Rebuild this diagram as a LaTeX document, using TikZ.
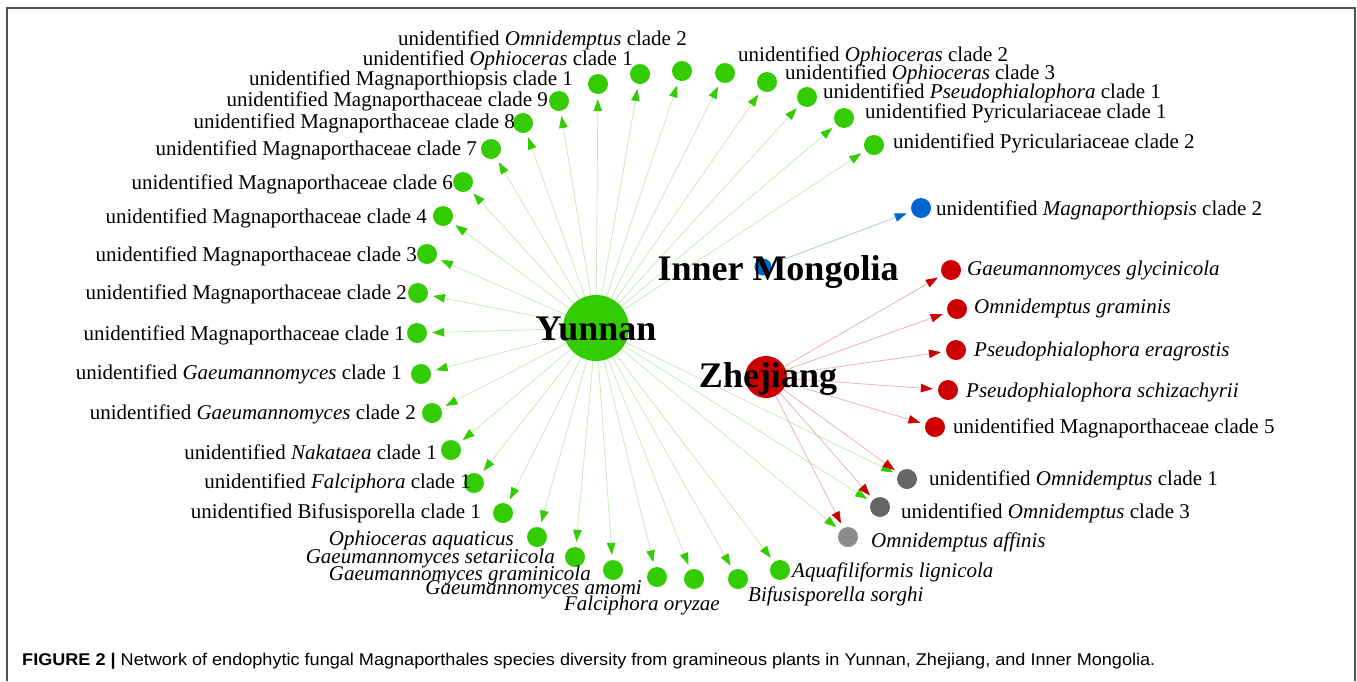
\documentclass[tikz,border=0pt]{standalone}
\usepackage{fontspec}
\setmainfont{Liberation Serif}
\newfontfamily\capfont{Liberation Sans}
\usetikzlibrary{arrows.meta,backgrounds}
\definecolor{ygreen}{RGB}{51,204,0}
\definecolor{zred}{RGB}{204,0,0}
\definecolor{mblue}{RGB}{0,102,204}
\definecolor{grayA}{RGB}{102,102,102}
\definecolor{grayB}{RGB}{140,140,140}
\definecolor{gedge}{RGB}{198,236,186}
\definecolor{redge}{RGB}{238,176,184}
\definecolor{bedge}{RGB}{172,202,234}
\definecolor{framec}{RGB}{80,80,80}
\tikzset{
  leaf/.style={circle,inner sep=0pt,minimum size=20pt,draw=none},
  gleaf/.style={leaf,fill=ygreen},
  rleaf/.style={leaf,fill=zred},
  bleaf/.style={leaf,fill=mblue},
  gyleaf/.style={leaf,fill=grayA},
  gyleafb/.style={leaf,fill=grayB},
  labl/.style={anchor=base east,inner sep=0pt,font=\fontsize{21}{24}\selectfont},
  labr/.style={anchor=base west,inner sep=0pt,font=\fontsize{21}{24}\selectfont},
  hublab/.style={anchor=base,inner sep=0pt,font=\fontsize{36}{40}\selectfont\bfseries},
  gedg/.style={draw=gedge,line width=0.8pt,shorten >=5pt,-{Triangle[length=12pt,width=8.5pt,color=ygreen]}},
  redg/.style={draw=redge,line width=0.8pt,shorten >=5pt,-{Triangle[length=12pt,width=8.5pt,color=zred]}},
  bedg/.style={draw=bedge,line width=0.8pt,shorten >=5pt,-{Triangle[length=12pt,width=8.5pt,color=mblue]}}
}
\begin{document}
\begin{tikzpicture}[x=1pt,y=-1pt]
\useasboundingbox (0,0) rectangle (1357,681);
% hubs
\node[circle,inner sep=0pt,minimum size=66pt,fill=ygreen] (yun) at (596,328) {};
\node[circle,inner sep=0pt,minimum size=17pt,fill=mblue] (inm) at (763,267) {};
\node[circle,inner sep=0pt,minimum size=42pt,fill=zred] (zhe) at (766,377) {};
% green leaves (labels left)
\node[gleaf] (a) at (682,71) {};
\node[labl] (la) at (687,45) {unidentified \textit{Omnidemptus} clade 2};
\node[gleaf] (b) at (640,74) {};
\node[labl] (lb) at (633,65) {unidentified \textit{Ophioceras} clade 1};
\node[gleaf] (c) at (598,84) {};
\node[labl] (lc) at (573,85) {unidentified Magnaporthiopsis clade 1};
\node[gleaf] (d) at (559,101) {};
\node[labl] (ld) at (548,106) {unidentified Magnaporthaceae clade 9};
\node[gleaf] (e) at (523,123) {};
\node[labl] (le) at (515,128) {unidentified Magnaporthaceae clade 8};
\node[gleaf] (f) at (491,149) {};
\node[labl] (lf) at (477,155) {unidentified Magnaporthaceae clade 7};
\node[gleaf] (g) at (463,182) {};
\node[labl] (lg) at (453,189) {unidentified Magnaporthaceae clade 6};
\node[gleaf] (h) at (443,216) {};
\node[labl] (lh) at (427,223) {unidentified Magnaporthaceae clade 4};
\node[gleaf] (i) at (427,254) {};
\node[labl] (li) at (417,261) {unidentified Magnaporthaceae clade 3};
\node[gleaf] (j) at (418,293) {};
\node[labl] (lj) at (407,299) {unidentified Magnaporthaceae clade 2};
\node[gleaf] (k) at (417,333) {};
\node[labl] (lk) at (405,340) {unidentified Magnaporthaceae clade 1};
\node[gleaf] (l) at (421,374) {};
\node[labl] (ll) at (402,379) {unidentified \textit{Gaeumannomyces} clade 1};
\node[gleaf] (m) at (432,413) {};
\node[labl] (lm) at (416,419) {unidentified \textit{Gaeumannomyces} clade 2};
\node[gleaf] (n) at (451,450) {};
\node[labl] (ln) at (437,459) {unidentified \textit{Nakataea} clade 1};
\node[gleaf] (o) at (474,483) {};
\node[labl] (lo) at (471,488) {unidentified \textit{Falciphora} clade 1};
\node[gleaf] (p) at (503,513) {};
\node[labl] (lp) at (481,518) {unidentified Bifusisporella clade 1};
\node[gleaf] (q) at (537,537) {};
\node[labl] (lq) at (514,545) {\textit{Ophioceras aquaticus}};
\node[gleaf] (r) at (575,557) {};
\node[labl] (lr) at (555,563) {\textit{Gaeumannomyces setariicola}};
\node[gleaf] (s) at (613,570) {};
\node[labl] (ls) at (591,580) {\textit{Gaeumannomyces graminicola}};
\node[gleaf] (t) at (657,577) {};
\node[labl] (lt) at (642,594) {\textit{Gaeumannomyces amomi}};
\node[gleaf] (u) at (694,579) {};
\node[labl] (lu) at (720,610) {\textit{Falciphora oryzae}};
\node[gleaf] (v) at (738,579) {};
\node[labr] (lv) at (748,601) {\textit{Bifusisporella sorghi}};
\node[gleaf] (w) at (780,570) {};
\node[labr] (lw) at (792,577) {\textit{Aquafiliformis lignicola}};
% green leaves (labels right)
\node[gleaf] (x) at (725,73) {};
\node[labr] (lx) at (738,61) {unidentified \textit{Ophioceras} clade 2};
\node[gleaf] (y) at (767,82) {};
\node[labr] (ly) at (785,79) {unidentified \textit{Ophioceras} clade 3};
\node[gleaf] (z) at (807,97) {};
\node[labr] (lz) at (823,98) {unidentified \textit{Pseudophialophora} clade 1};
\node[gleaf] (aa) at (844,118) {};
\node[labr] (laa) at (865,118) {unidentified Pyriculariaceae clade 1};
\node[gleaf] (ab) at (874,145) {};
\node[labr] (lab) at (893,148) {unidentified Pyriculariaceae clade 2};
% blue leaf
\node[bleaf] (bl) at (921,208) {};
\node[labr] (lbl) at (936,215) {unidentified \textit{Magnaporthiopsis} clade 2};
% red leaves
\node[rleaf] (r1) at (951,270) {};
\node[labr] (lr1) at (967,275) {\textit{Gaeumannomyces glycinicola}};
\node[rleaf] (r2) at (957,309) {};
\node[labr] (lr2) at (974,313) {\textit{Omnidemptus graminis}};
\node[rleaf] (r3) at (956,350) {};
\node[labr] (lr3) at (974,356) {\textit{Pseudophialophora eragrostis}};
\node[rleaf] (r4) at (948,390) {};
\node[labr] (lr4) at (966,397) {\textit{Pseudophialophora schizachyrii}};
\node[rleaf] (r5) at (935,427) {};
\node[labr] (lr5) at (953,433) {unidentified Magnaporthaceae clade 5};
% gray leaves
\node[gyleaf] (g1) at (907,479) {};
\node[labr] (lg1) at (929,485) {unidentified \textit{Omnidemptus} clade 1};
\node[gyleaf] (g2) at (880,507) {};
\node[labr] (lg2) at (901,518) {unidentified \textit{Omnidemptus} clade 3};
\node[gyleafb] (g3) at (848,537) {};
\node[labr] (lg3) at (871,547) {\textit{Omnidemptus affinis}};
% hub labels
\node[hublab] (tyun) at (596,340) {Yunnan};
\node[hublab] (tinm) at (778,280) {Inner Mongolia};
\node[hublab] (tzhe) at (768,387) {Zhejiang};
% caption
\node[anchor=base west,inner sep=0pt] (cap) at (22,665) {\resizebox{1133pt}{12.3pt}{\capfont\textbf{FIGURE 2 |} Network of endophytic fungal Magnaporthales species diversity from gramineous plants in Yunnan, Zhejiang, and Inner Mongolia.}};
\begin{pgfonlayer}{background}
\fill[white] (0,0) rectangle (1357,681);
\draw[framec,line width=2pt] (7,681) -- (7,8) -- (1355,8) -- (1355,681);
\foreach \t in {a,b,c,d,e,f,g,h,i,j,k,l,m,n,o,p,q,r,s,t,u,v,w,x,y,z,aa,ab,g1,g2,g3}
  \draw[gedg] (yun) -- (\t);
\foreach \t in {r1,r2,r3,r4,r5,g1,g2,g3}
  \draw[redg] (zhe) -- (\t);
\draw[bedg] (inm) -- (bl);
\end{pgfonlayer}
\end{tikzpicture}
\end{document}
